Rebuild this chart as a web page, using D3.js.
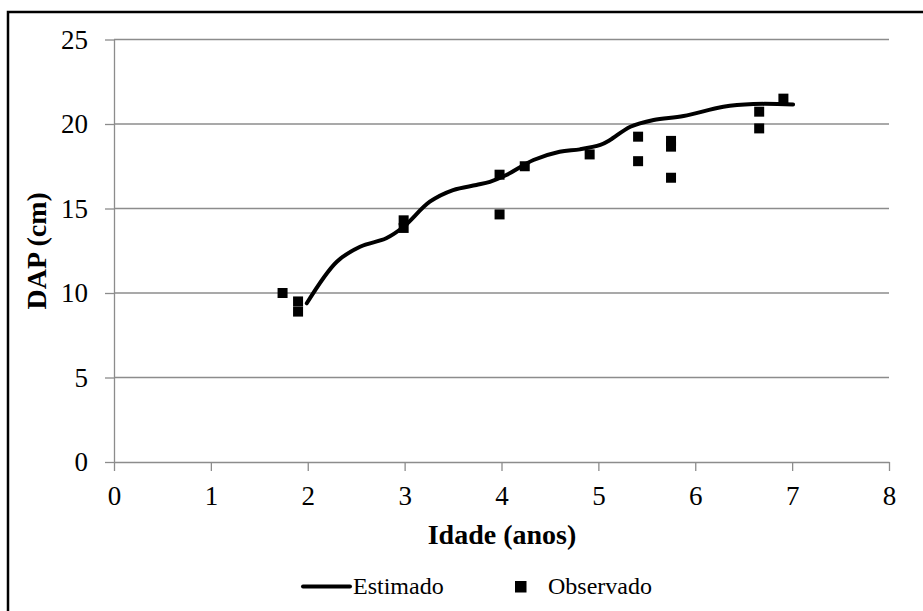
<!DOCTYPE html>
<html lang="pt">
<head>
    <meta charset="UTF-8">
    <title>DAP x Idade</title>
    <script src="https://d3js.org/d3.v7.min.js"></script>
    <style>
        body { margin: 0; background: #fff; }
        .grid line { stroke: #8c8c8c; stroke-width: 1.3; }
        .axis path, .axis line { stroke: #8c8c8c; stroke-width: 1.3; }
    </style>
</head>
<body>
    <svg width="923" height="611"></svg>

    <script>
        // Estimado (smoothed curve) - idade (anos) and DAP (cm)
        const estAge = [1.99, 2.30, 2.54, 2.81, 2.99, 3.26, 3.50, 3.74, 3.88, 4.05, 4.33, 4.60, 4.81, 5.02, 5.12, 5.33, 5.57, 5.88, 6.29, 6.60, 7.01];
        const estDap = [9.39, 11.85, 12.74, 13.24, 13.92, 15.40, 16.09, 16.39, 16.58, 16.98, 17.87, 18.36, 18.50, 18.76, 19.05, 19.84, 20.24, 20.47, 21.02, 21.18, 21.16];

        // Observado (points)
        const obsAge = [1.74, 1.90, 1.90, 2.99, 2.99, 3.98, 3.98, 4.24, 4.91, 5.41, 5.41, 5.75, 5.75, 5.75, 6.66, 6.66, 6.91];
        const obsDap = [10.0, 9.5, 8.9, 14.3, 13.85, 14.65, 17.0, 17.5, 18.2, 19.25, 17.8, 19.0, 18.66, 16.82, 20.73, 19.74, 21.5];

        const xTicks = [0, 1, 2, 3, 4, 5, 6, 7, 8];
        const yTicks = [0, 5, 10, 15, 20, 25];

        const serif = '"Liberation Serif"';

        const svg = d3.select("svg");
        const x = d3.scaleLinear().domain([0, 8]).range([114, 889]);
        const y = d3.scaleLinear().domain([0, 25]).range([462, 39.5]);

        // outer frame (runs past the right and bottom edges)
        svg.append("rect")
            .attr("x", 8).attr("y", 12)
            .attr("width", 930).attr("height", 620)
            .attr("fill", "none").attr("stroke", "#000").attr("stroke-width", 2.5);

        // horizontal grid
        svg.append("g").attr("class", "grid")
            .selectAll("line").data(yTicks.filter(d => d > 0)).join("line")
            .attr("x1", x(0)).attr("x2", x(8))
            .attr("y1", d => y(d)).attr("y2", d => y(d));

        // axes
        svg.append("g").attr("class", "axis")
            .attr("transform", `translate(${x(0)},0)`)
            .call(d3.axisLeft(y).tickValues(yTicks).tickSize(9).tickSizeOuter(0).tickPadding(17));
        svg.append("g").attr("class", "axis")
            .attr("transform", `translate(0,${y(0)})`)
            .call(d3.axisBottom(x).tickValues(xTicks).tickSize(9).tickSizeOuter(0).tickPadding(15));
        svg.selectAll(".axis").attr("font-family", null).attr("font-size", null);
        svg.selectAll(".axis text").style("font-size", "27px").style("fill", "#000");

        // axis titles
        svg.append("text")
            .attr("x", 502).attr("y", 544)
            .attr("text-anchor", "middle")
            .style("font-size", "28px").style("font-weight", "bold")
            .text("Idade (anos)");
        svg.append("text")
            .attr("transform", `translate(46,${(y(0) + y(25)) / 2}) rotate(-90)`)
            .attr("text-anchor", "middle")
            .style("font-size", "28px").style("font-weight", "bold")
            .text("DAP (cm)");

        // estimated line
        const est = estAge.map((a, i) => ({ a, v: estDap[i] }));
        const line = d3.line().x(d => x(d.a)).y(d => y(d.v)).curve(d3.curveCatmullRom.alpha(0.5));
        svg.append("path").datum(est)
            .attr("fill", "none").attr("stroke", "#000").attr("stroke-width", 4)
            .attr("stroke-linecap", "round")
            .attr("d", line);

        // observed points
        const obs = obsAge.map((a, i) => ({ a, v: obsDap[i] }));
        const sq = 10;
        svg.append("g").selectAll("rect").data(obs).join("rect")
            .attr("x", d => x(d.a) - sq / 2).attr("y", d => y(d.v) - sq / 2)
            .attr("width", sq).attr("height", sq).attr("fill", "#000");

        // legend
        const lg = svg.append("g");
        lg.append("line").attr("x1", 303).attr("x2", 350).attr("y1", 586.5).attr("y2", 586.5)
            .attr("stroke", "#000").attr("stroke-width", 4).attr("stroke-linecap", "round");
        lg.append("text").attr("x", 353).attr("y", 594).style("font-size", "24px").text("Estimado");
        lg.append("rect").attr("x", 515).attr("y", 581).attr("width", 11.5).attr("height", 11.5).attr("fill", "#000");
        lg.append("text").attr("x", 548).attr("y", 594).style("font-size", "24px").text("Observado");

        // font applied inline on every text
        svg.selectAll("text").style("font-family", serif);
    </script>
</body>
</html>
